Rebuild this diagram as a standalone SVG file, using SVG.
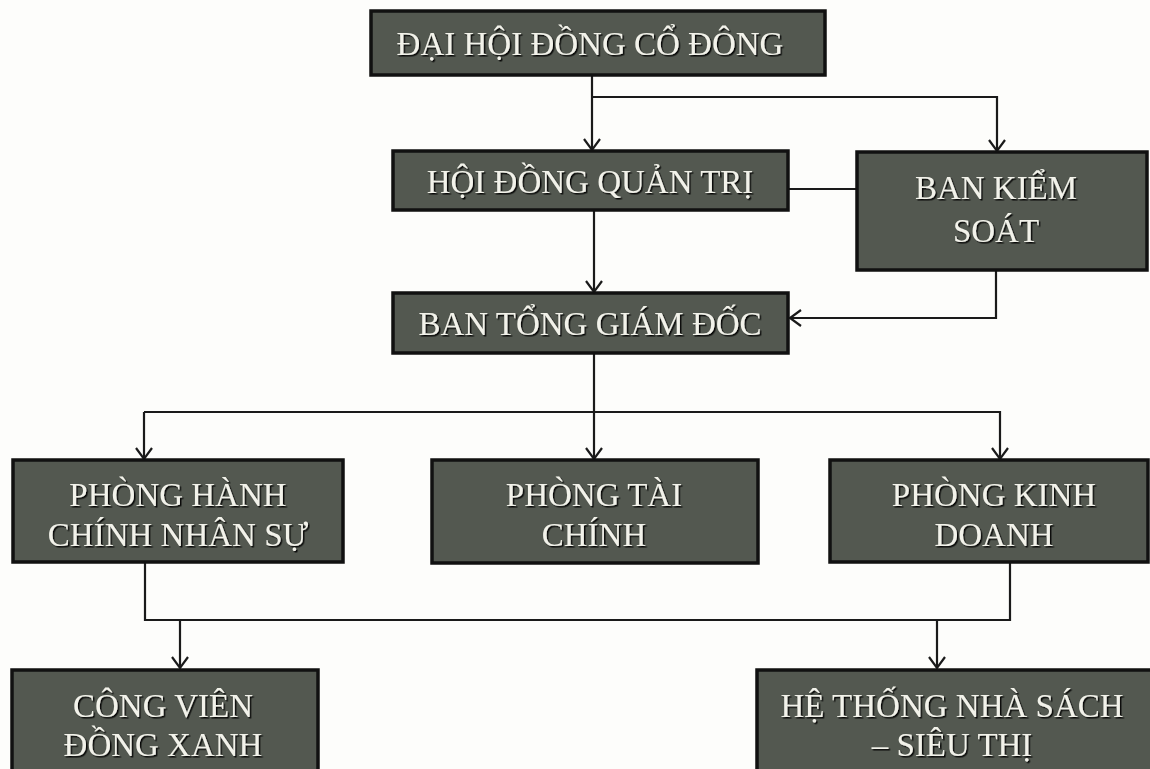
<svg xmlns="http://www.w3.org/2000/svg" width="1150" height="769" viewBox="0 0 1150 769">
<style>
.box{fill:#535850;stroke:#111;stroke-width:3.5}
.t{font-family:"Liberation Serif","Times New Roman",serif;font-size:33px;fill:#f2f2ea;text-anchor:middle;filter:url(#sh)}
.c{fill:none;stroke:#1a1a1a;stroke-width:2.2}
</style>
<defs>
<filter id="sh" x="-10%" y="-30%" width="120%" height="160%">
<feDropShadow dx="1.5" dy="1.5" stdDeviation="0.6" flood-color="#000" flood-opacity="0.9"/>
</filter>
<marker id="ar" markerUnits="userSpaceOnUse" markerWidth="30" markerHeight="30" refX="15" refY="15" orient="auto" viewBox="0 0 30 30">
<path d="M4,7 L15,15 L4,23" fill="none" stroke="#1a1a1a" stroke-width="2.2"/>
</marker>
</defs>
<rect width="1150" height="769" fill="#fdfdfb"/>
<g id="connectors">
<path class="c" d="M592,76 V150" marker-end="url(#ar)"/>
<path class="c" d="M592,97 H997 V151" marker-end="url(#ar)"/>
<path class="c" d="M788,189 H857"/>
<path class="c" d="M594,210 V292" marker-end="url(#ar)"/>
<path class="c" d="M996,270 V318 H790" marker-end="url(#ar)"/>
<path class="c" d="M594,353 V459" marker-end="url(#ar)"/>
<path class="c" d="M144,412 H1000 V459" marker-end="url(#ar)"/>
<path class="c" d="M144,412 V459" marker-end="url(#ar)"/>
<path class="c" d="M145,562 V620 H1010 V562"/>
<path class="c" d="M180,620 V668" marker-end="url(#ar)"/>
<path class="c" d="M937,620 V668" marker-end="url(#ar)"/>
</g>
<g id="dhdcd">
<rect class="box" x="371" y="11" width="454" height="64"/>
<text class="t" x="590" y="55">ĐẠI HỘI ĐỒNG CỔ ĐÔNG</text>
</g>
<g id="hdqt">
<rect class="box" x="393" y="151" width="395" height="59"/>
<text class="t" x="590" y="193">HỘI ĐỒNG QUẢN TRỊ</text>
</g>
<g id="bks">
<rect class="box" x="857" y="152" width="290" height="118"/>
<text class="t" x="996" y="199">BAN KIỂM</text>
<text class="t" x="996" y="242">SOÁT</text>
</g>
<g id="btgd">
<rect class="box" x="393" y="293" width="395" height="60"/>
<text class="t" x="590" y="335">BAN TỔNG GIÁM ĐỐC</text>
</g>
<g id="phcns">
<rect class="box" x="13" y="460" width="330" height="102"/>
<text class="t" x="178" y="506">PHÒNG HÀNH</text>
<text class="t" x="178" y="546">CHÍNH NHÂN SỰ</text>
</g>
<g id="ptc">
<rect class="box" x="432" y="460" width="326" height="103"/>
<text class="t" x="594" y="506">PHÒNG TÀI</text>
<text class="t" x="594" y="546">CHÍNH</text>
</g>
<g id="pkd">
<rect class="box" x="830" y="460" width="318" height="102"/>
<text class="t" x="994" y="506">PHÒNG KINH</text>
<text class="t" x="994" y="546">DOANH</text>
</g>
<g id="cvdx">
<rect class="box" x="12" y="670" width="306" height="110"/>
<text class="t" x="163" y="717">CÔNG VIÊN</text>
<text class="t" x="163" y="756">ĐỒNG XANH</text>
</g>
<g id="htns">
<rect class="box" x="757" y="670" width="400" height="110"/>
<text class="t" x="952" y="717">HỆ THỐNG NHÀ SÁCH</text>
<text class="t" x="952" y="756">– SIÊU THỊ</text>
</g>
</svg>
